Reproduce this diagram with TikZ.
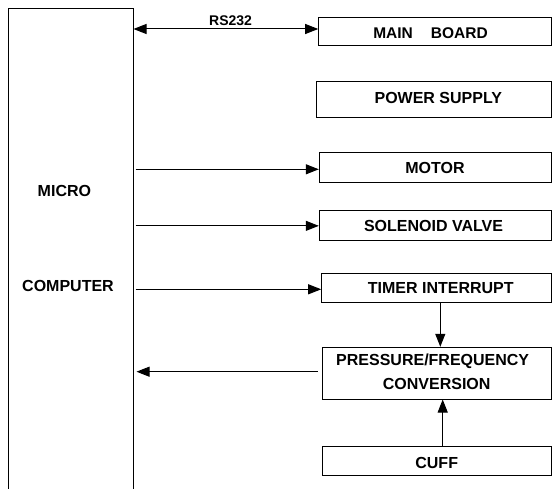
\documentclass[tikz,border=0pt]{standalone}
\usepackage{fontspec}
\setmainfont{Liberation Sans}
\usetikzlibrary{arrows.meta}
\begin{document}
\begin{tikzpicture}[x=1pt,y=1pt,line width=1pt,
  >={Triangle[length=13pt,width=10pt]},
  box/.style={draw,rectangle,inner sep=0pt},
  txt/.style={inner sep=0pt,anchor=base,font=\fontsize{16}{18}\selectfont\bfseries},
  arr/.style={->},
  dbl/.style={<->}]
\useasboundingbox (0,0) rectangle (552,-489);
% microcomputer
\node[inner sep=0pt,minimum width=124.5pt,minimum height=480pt] (mc) at (70.75,-249) {};
\draw (mc.south west) -- (mc.north west) -- (mc.north east) -- (mc.south east);
\node[txt] (mct1) at (64.4,-196.7) {MICRO};
\node[txt] (mct2) at (68,-291.7) {COMPUTER};
% boxes
\node[box,minimum width=232.3pt,minimum height=28.7pt] (mb) at (434.85,-31.65) {};
\node[box,minimum width=234.3pt,minimum height=35.6pt] (ps) at (433.85,-99.5) {};
\node[box,minimum width=231.7pt,minimum height=29.6pt] (mo) at (435.15,-167.5) {};
\node[box,minimum width=231.7pt,minimum height=29.7pt] (sv) at (435.15,-225.85) {};
\node[box,minimum width=229.3pt,minimum height=29.4pt] (ti) at (436.35,-288) {};
\node[box,minimum width=228.3pt,minimum height=51.7pt] (pf) at (436.85,-373.15) {};
\node[box,minimum width=228.3pt,minimum height=28.3pt] (cu) at (436.85,-460.85) {};
% texts
\node[txt,font=\fontsize{15.5}{17}\selectfont\bfseries] (mbt) at (430.5,-38.3) {MAIN\hspace{18pt}BOARD};
\node[txt] (pst) at (438.3,-103.3) {POWER SUPPLY};
\node[txt] (mot) at (435,-173.3) {MOTOR};
\node[txt] (svt) at (433.5,-231.7) {SOLENOID VALVE};
\node[txt] (tit) at (440.8,-293.3) {TIMER INTERRUPT};
\node[txt] (pft1) at (432.7,-366) {PRESSURE/FREQUENCY};
\node[txt] (pft2) at (436.7,-389.3) {CONVERSION};
\node[txt] (cut) at (436.7,-468.3) {CUFF};
\node[txt,font=\fontsize{14}{16}\selectfont\bfseries] (rs) at (230.6,-26) {RS232};
% connectors
\draw[dbl] (mc.east |- 0,-29) -- (mb.west |- 0,-29);
\draw[arr] ([xshift=2pt]mc.east |- 0,-169.3) -- (mo.west |- 0,-169.3);
\draw[arr] ([xshift=2pt]mc.east |- sv.west) -- (sv.west);
\draw[arr] ([xshift=2pt]mc.east |- 0,-289.3) -- (ti.west |- 0,-289.3);
\draw[arr] ([xshift=-4.7pt]pf.west |- 0,-371.7) -- ([xshift=3pt]mc.east |- 0,-371.7);
\draw[arr] (ti.south -| 440.3,0) -- (pf.north -| 440.3,0);
\draw[arr] (cu.north -| 442.7,0) -- (pf.south -| 442.7,0);
\end{tikzpicture}
\end{document}
